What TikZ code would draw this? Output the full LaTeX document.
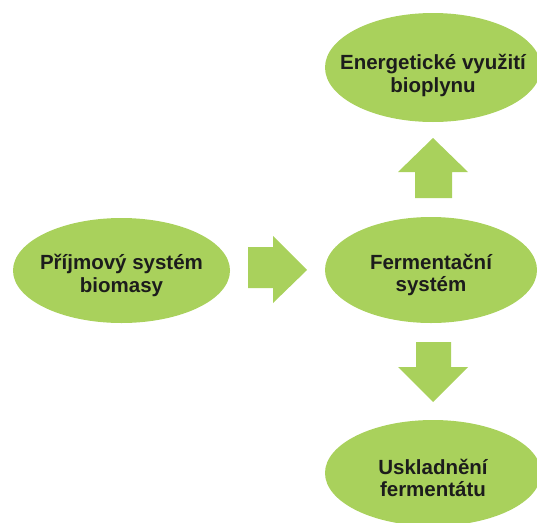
\documentclass[tikz,border=0pt]{standalone}
\usepackage{fontspec}
\setmainfont{Liberation Sans}
\usetikzlibrary{shapes.geometric}
\definecolor{leaf}{HTML}{A9D15C}
\definecolor{ink}{HTML}{1C1C1C}
\tikzset{
  blob/.style={ellipse, fill=leaf, draw=none, inner sep=0pt},
  lbl/.style={align=center, inner sep=0pt,
    font=\bfseries\fontsize{20.5}{22.5}\selectfont, text=ink},
  blockarrow/.style={fill=leaf, draw=none}
}
\begin{document}
\begin{tikzpicture}[x=1pt,y=-1pt]
\useasboundingbox (0,0) rectangle (537,522);
\node[blob, minimum width=217pt, minimum height=105pt] (src) at (121.5,270.5) {};
\node[blob, minimum width=212pt, minimum height=106pt] (ferm) at (431,270) {};
\node[blob, minimum width=216pt, minimum height=109pt] (gas) at (433,67.5) {};
\node[blob, minimum width=216pt, minimum height=106pt] (store) at (433,473) {};
\node[lbl] (srct) at ([yshift=-5pt]src.center) {Příjmový systém\\biomasy};
\node[lbl] (fermt) at ([yshift=-5pt]ferm.center) {Fermentační\\systém};
\node[lbl] (gast) at ([yshift=-8pt]gas.center) {Energetické využití\\bioplynu};
\node[lbl] (storet) at ([yshift=-5pt]store.center) {Uskladnění\\fermentátu};
% right arrow
\fill[blockarrow] (248,247) -- (273,247) -- (273,236) -- (307,270) -- (273,303) -- (273,288) -- (248,288) -- cycle;
% up arrow
\fill[blockarrow] (415,198) -- (415,172) -- (398,172) -- (433,138) -- (468,172) -- (452,172) -- (452,198) -- cycle;
% down arrow
\fill[blockarrow] (416,342) -- (451,342) -- (451,367) -- (468,367) -- (433,402) -- (398,367) -- (416,367) -- cycle;
\end{tikzpicture}
\end{document}
